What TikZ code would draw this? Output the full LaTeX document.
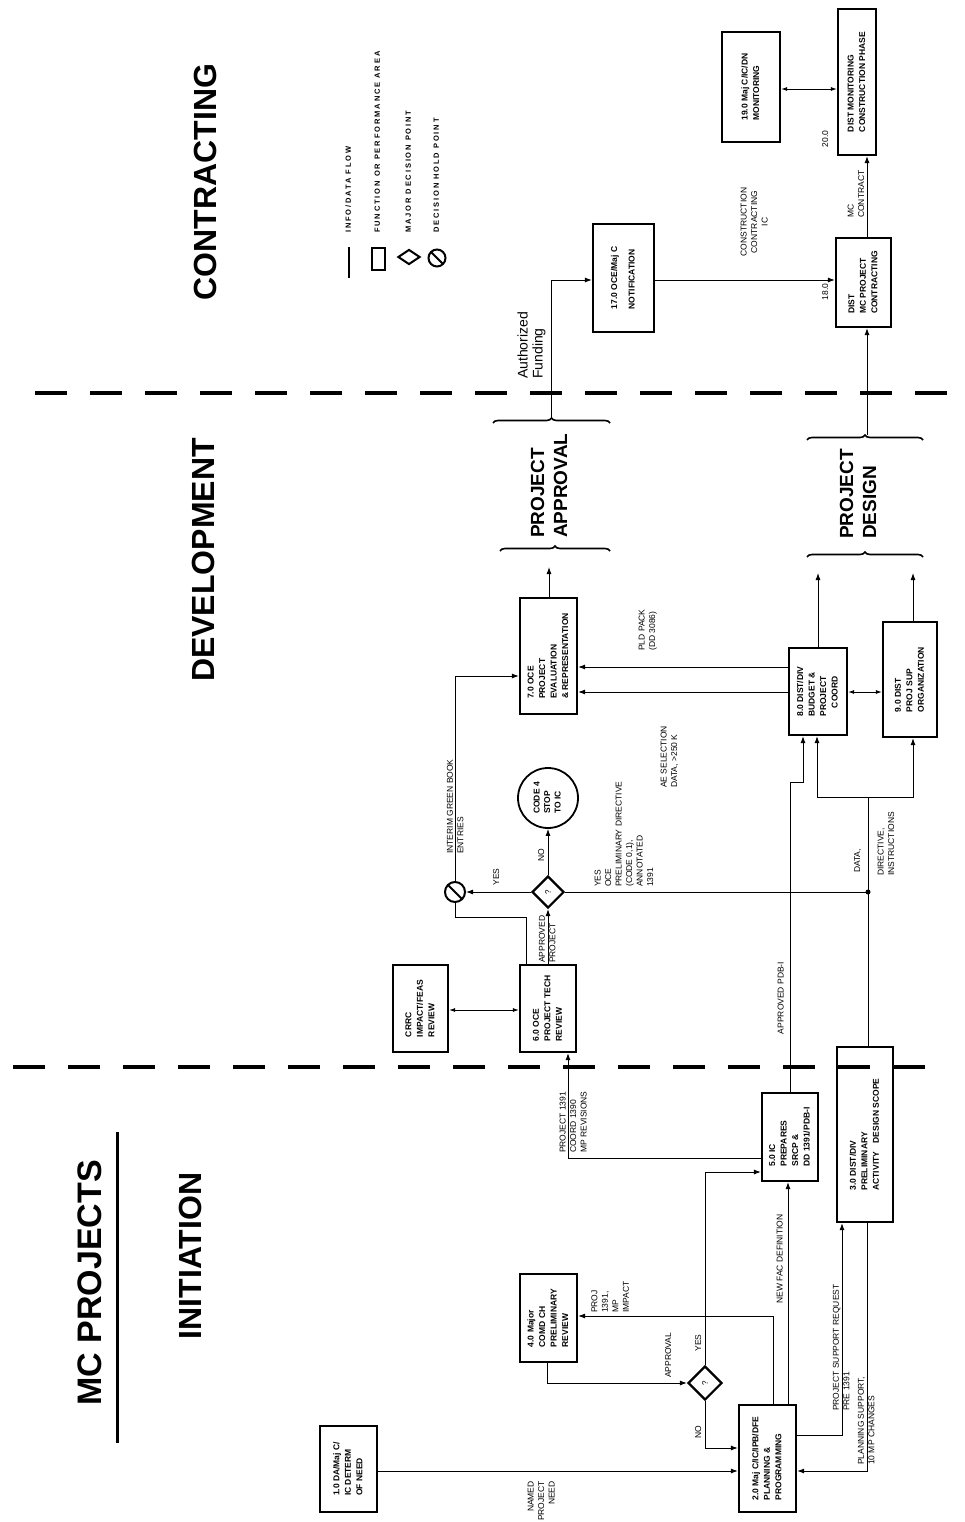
\documentclass[tikz,border=0pt]{standalone}
\usepackage{fontspec}
\usepackage{graphicx}
\setmainfont{Liberation Sans}
\newfontfamily\legendfont[LetterSpace=25]{Liberation Sans}
\usetikzlibrary{arrows.meta,shapes.geometric,decorations.pathreplacing}
\newcommand{\vt}[1]{\rotatebox{90}{\begin{tabular}{@{}l@{}}#1\end{tabular}}}
\newcommand{\vtc}[1]{\rotatebox{90}{\begin{tabular}{@{}c@{}}#1\end{tabular}}}
\newcommand{\vtr}[1]{\rotatebox{90}{\begin{tabular}{@{}r@{}}#1\end{tabular}}}

\begin{document}
\begin{tikzpicture}[x=1pt,y=-1pt,
    box/.style={draw,line width=2.2pt,inner sep=0pt,font=\fontsize{8.5}{11.5}\selectfont\bfseries},
    flow/.style={line width=0.9pt,-{Latex[length=7pt,width=5pt]}},
    wire/.style={line width=0.9pt},
    twoway/.style={line width=0.9pt,{Latex[length=6pt,width=4pt]}-{Latex[length=6pt,width=4pt]}},
    lbl/.style={inner sep=1pt,font=\fontsize{8.5}{10.5}\selectfont},
    lgd/.style={inner sep=1pt,font=\legendfont\fontsize{7.5}{9}\selectfont\bfseries},
    heading/.style={inner sep=0pt,font=\fontsize{32}{36}\selectfont\bfseries},
    stage/.style={inner sep=0pt,font=\fontsize{19}{23}\selectfont\bfseries},
    phaseline/.style={line width=4pt,dash pattern=on 32pt off 23pt},
    decide/.style={diamond,draw,line width=2.2pt,minimum width=34pt,minimum height=34pt,inner sep=0pt,font=\fontsize{8}{10}\selectfont},
    hold/.style={circle,draw,line width=2pt,minimum size=20pt,inner sep=0pt,
        path picture={\draw[line width=2pt] (path picture bounding box.north west) -- (path picture bounding box.south east);}},
    brc/.style={decorate,decoration={brace,amplitude=5pt},line width=1.6pt}]

    \useasboundingbox[fill=white] (0,0) rectangle (965,1522);

    % headings and phase limits
    \node[heading,font=\fontsize{34}{38}\selectfont\bfseries] (title) at (90,1283) {\rotatebox{90}{MC PROJECTS}};
    \draw[line width=3pt] (117,1132) -- (117,1443);
    \node[heading] (init) at (190,1256) {\rotatebox{90}{INITIATION}};
    \node[heading] (devel) at (203,560) {\rotatebox{90}{DEVELOPMENT}};
    \node[heading] (contr) at (205,182) {\rotatebox{90}{CONTRACTING}};
    \draw[phaseline] (13,1067) -- (925,1067);
    \draw[phaseline] (35,393) -- (965,393);

    % legend
    \draw[line width=1.4pt] (349,247) -- (349,278);
    \node[draw,line width=2pt,minimum width=13pt,minimum height=22pt,inner sep=0pt] (lgbox) at (378.5,259) {};
    \node[diamond,draw,line width=2pt,minimum width=22pt,minimum height=15pt,inner sep=0pt] (lgdia) at (409,257) {};
    \node[hold,minimum size=17pt] (lghold) at (437,258) {};
    \node[lgd,anchor=south] (lgflow) at (349,234) {\vt{INFO/DATA FLOW}};
    \node[lgd,anchor=south] (lgfunc) at (378,234) {\vt{FUNCTION OR PERFORMANCE AREA}};
    \node[lgd,anchor=south] (lgmajor) at (409,234) {\vt{MAJOR DECISION POINT}};
    \node[lgd,anchor=south] (lghpt) at (437,234) {\vt{DECISION HOLD POINT}};

    % boxes
    \node[box,minimum width=57pt,minimum height=86pt] (n1) at (348.5,1469) {\vt{1.0 DA/Maj C/\\IC DETERM\\OF NEED}};
    \node[box,minimum width=57pt,minimum height=107pt] (n2) at (767.5,1458.5) {\vt{2.0 Maj C/IC/IPB/DFE\\PLANNING \&\\PROGRAMMING}};
    \node[box,minimum width=56pt,minimum height=175pt] (n3) at (865,1134.5) {\vt{3.0 DIST/DIV\\PRELIMINARY\\ACTIVITY\quad DESIGN SCOPE}};
    \node[box,minimum width=57pt,minimum height=88pt] (n4) at (548.5,1318) {\vt{4.0 Major\\COMD CH\\PRELIMINARY\\REVIEW}};
    \node[box,minimum width=56pt,minimum height=88pt] (n5) at (790,1137) {\vt{5.0 IC\\PREPARES\\SRCP \&\\DD 1391/PDB-I}};
    \node[box,minimum width=56pt,minimum height=87pt] (n6) at (548,1008.5) {\vt{6.0 OCE\\PROJECT TECH\\REVIEW}};
    \node[box,minimum width=55pt,minimum height=87pt] (crrc) at (420.5,1008.5) {\vt{CRRC\\IMPACT/FEAS\\REVIEW}};
    \node[box,minimum width=57pt,minimum height=116pt] (n7) at (548.5,656) {\vt{7.0 OCE\\PROJECT\\EVALUATION\\\& REPRESENTATION}};
    \node[box,minimum width=58pt,minimum height=87pt] (n8) at (818,691.5) {\vt{8.0 DIST/DIV\\BUDGET \&\\PROJECT\\\quad COORD}};
    \node[box,minimum width=54pt,minimum height=115pt] (n9) at (910,679.5) {\vt{9.0 DIST\\PROJ SUP\\ORGANIZATION}};
    \node[box,minimum width=61pt,minimum height=108pt] (n17) at (623.5,278) {\vt{17.0 OCE/Maj C\\[6pt]NOTIFICATION}};
    \node[box,minimum width=55pt,minimum height=89pt] (n18) at (863.5,282.5) {\vt{DIST\\MC PROJECT\\CONTRACTING}};
    \node[box,minimum width=58pt,minimum height=110pt] (n19) at (751,87) {\vt{19.0 Maj C/IC/DN\\MONITORING}};
    \node[box,minimum width=38pt,minimum height=146pt] (n20) at (857,82) {\vt{DIST MONITORING\\CONSTRUCTION PHASE}};
    \node[lbl] (l18) at (826,292) {\vt{18.0}};
    \node[lbl] (l20) at (826,139) {\vt{20.0}};

    % decision and hold points
    \node[decide] (d1) at (705,1383) {\rotatebox{90}{?}};
    \node[decide,minimum width=32pt,minimum height=32pt] (d2) at (548,892) {\rotatebox{90}{?}};
    \node[hold] (h1) at (455,892) {};
    \node[circle,draw,line width=1.8pt,minimum size=60pt,inner sep=0pt,font=\fontsize{8.5}{10.5}\selectfont\bfseries] (c4) at (548,798) {\vt{CODE 4\\STOP\\TO IC}};
    \coordinate (jd) at (868,892);
    \coordinate (jt) at (868,797);
    \coordinate (af) at (551,418);
    \coordinate (pab) at (549,567);
    \coordinate (pdl) at (818,573);
    \coordinate (pdr) at (913,573);
    \coordinate (pdt) at (867,435);

    % approval and design brackets
    \draw[brc] (493,423) -- (610,423);
    \draw[brc] (500,551) -- (610,551);
    \draw[brc] (807,440) -- (923,440);
    \draw[brc] (807,557) -- (923,557);
    \node[stage,anchor=south] (papp) at (551,538) {\vt{PROJECT\\APPROVAL}};
    \node[stage,anchor=south] (pdes) at (860,539) {\vt{PROJECT\\DESIGN}};

    % connectors
    \draw[flow] (n1.east |- 0,1471) -- (n2.west |- 0,1471);
    \draw[flow] (773,0 |- n2.north) |- (n4.east |- 0,1316);
    \draw[flow] (547,0 |- n4.south) |- (d1.west);
    \draw[flow] (d1.north) |- (n5.west |- 0,1172);
    \draw[flow] (d1.south) |- (n2.west |- 0,1448);
    \draw[flow] (788,0 |- n2.north) -- (788,0 |- n5.south);
    \draw[flow] (n2.east |- 0,1435) -| (842,0 |- n3.south);
    \draw[flow] (867,0 |- n3.south) |- (n2.east |- 0,1471);
    \draw[flow] (n5.west |- 0,1158) -| (568,0 |- n6.south);
    \draw[twoway] (crrc.east |- 0,1010) -- (n6.west |- 0,1010);
    \draw[flow] (548,0 |- n6.north) -- (d2.south);
    \draw[wire] (526,0 |- n6.north) |- (h1.south |- 0,917) -- (h1.south);
    \draw[flow] (d2.west) -- (h1.east);
    \draw[flow] (h1.north) |- (n7.west |- 0,676);
    \draw[flow] (d2.north) -- (c4.south);
    \draw[wire] (d2.east) -- (jd);
    \fill (jd) circle (2.5pt);
    \draw[wire] (868,0 |- n3.north) -- (jt);
    \draw[flow] (jt) -| (817,0 |- n8.south);
    \draw[flow] (jt) -| (913,0 |- n9.south);
    \draw[flow] (790,0 |- n5.north) |- (803,782) -- (803,0 |- n8.south);
    \draw[flow] (n8.west |- 0,667) -- (n7.east |- 0,667);
    \draw[flow] (n8.west |- 0,692) -- (n7.east |- 0,692);
    \draw[twoway] (n8.east |- 0,692) -- (n9.west |- 0,692);
    \draw[flow] (549,0 |- n7.north) -- (pab);
    \draw[flow] (818,0 |- n8.north) -- (pdl);
    \draw[flow] (913,0 |- n9.north) -- (pdr);
    \draw[flow] (af) |- (n17.west |- 0,280);
    \draw[flow] (n17.east |- 0,280) -- (n18.west |- 0,280);
    \draw[flow] (pdt) -- (867,0 |- n18.south);
    \draw[flow] (867,0 |- n18.north) -- (867,0 |- n20.south);
    \draw[twoway] (n20.west |- 0,89) -- (n19.east |- 0,89);

    % connector labels
    \node[lbl,anchor=north] (lneed) at (542,1480) {\vtr{NAMED\\PROJECT\\NEED}};
    \node[lbl,anchor=south] (limpact) at (611,1314) {\vt{PROJ\\1391,\\MP\\IMPACT}};
    \node[lbl,anchor=south] (lapprov) at (669,1379) {\vt{APPROVAL}};
    \node[lbl] (lyes1) at (699,1343) {\vt{YES}};
    \node[lbl] (lno1) at (699,1432) {\vt{NO}};
    \node[lbl,anchor=east] (lnewfac) at (787,1259) {\vt{NEW FAC DEFINITION}};
    \node[lbl,anchor=south] (lsupport) at (842,1412) {\vt{PROJECT SUPPORT REQUEST\\PRE 1391}};
    \node[lbl,anchor=south] (lplan) at (867,1466) {\vt{PLANNING SUPPORT,\\10 MP CHANGES}};
    \node[lbl,anchor=south] (lcoord) at (574,1154) {\vt{PROJECT 1391\\COORD 1390\\MP REVISIONS}};
    \node[lbl,anchor=east] (lpdb) at (788,998) {\vt{APPROVED PDB-I}};
    \node[lbl,anchor=south] (lapproj) at (548,964) {\vt{APPROVED\\PROJECT}};
    \node[lbl] (lyes2) at (497,877) {\vt{YES}};
    \node[lbl] (lno2) at (542,855) {\vt{NO}};
    \node[lbl,anchor=south] (linterim) at (456,855) {\vt{INTERIM GREEN BOOK\\ENTRIES}};
    \node[lbl,anchor=south west] (ldirective) at (592,888) {\vt{YES\\OCE\\PRELIMINARY DIRECTIVE\\(CODE 0,1),\\ANNOTATED\\1391}};
    \node[lbl,anchor=south west] (lae) at (658,789) {\vt{AE SELECTION\\DATA, >250 K}};
    \node[lbl,anchor=south west] (lpld) at (636,652) {\vt{PLD PACK\\(DD 3086)}};
    \node[lbl,anchor=south] (ldata) at (858,874) {\vt{DATA,}};
    \node[lbl,anchor=south west] (linstr) at (875,877) {\vt{DIRECTIVE,\\INSTRUCTIONS}};
    \node[lbl,anchor=south west,font=\fontsize{14}{15}\selectfont] (lfund) at (516,380) {\vt{Authorized\\Funding}};
    \node[lbl] (lconst) at (755,222) {\vtc{CONSTRUCTION\\CONTRACTING\\IC}};
    \node[lbl,anchor=south west] (lmc) at (845,219) {\vt{MC\\CONTRACT}};
\end{tikzpicture}
\end{document}
